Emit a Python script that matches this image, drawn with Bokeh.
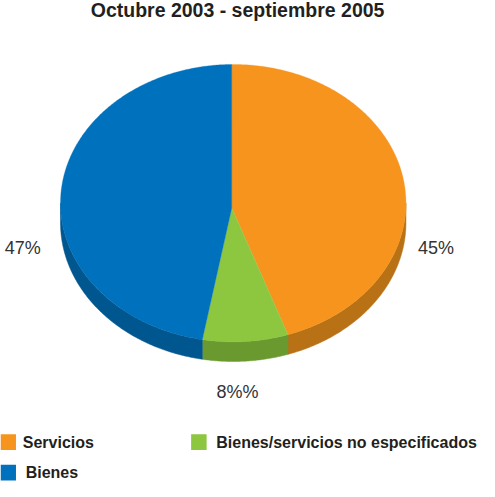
import numpy as np
from bokeh.plotting import figure
from bokeh.models import Range1d
from bokeh.core.properties import value
from bokeh.embed import file_html
from bokeh.resources import INLINE

# ---- data ----
title = "Octubre 2003 - septiembre 2005"
categories = ["Servicios", "Bienes/servicios no especificados", "Bienes"]
shares = [45, 8, 47]
pct_labels = ["45%", "8%%", "47%"]

# ---- styles / layout ----
top_colors = ["#F7941E", "#8DC63F", "#0071BC"]
side_colors = ["#B87115", "#6A9A2F", "#00568F"]
CX, CY, RX, RY = 240.5, 214.0, 178.5, 141.0   # top ellipse (reference px)
AX, AY = 239.0, 219.0                         # apex of slices
DEPTH = 20.0
START = 90.5                                   # degrees, clockwise drawing
label_pos = [(450, 260), (245, 406), (23, 260)]
legend_sq = [(8, 457), (205, 457), (8, 488)]
legend_tx = [(23, 457), (223, 457), (26, 488)]
FONT = "Liberation Sans"
TXT = "#231F20"

p = figure(width=479, height=481, x_range=Range1d(0, 495), y_range=Range1d(497, 8),
           output_backend="svg", toolbar_location=None, min_border=0,
           x_axis_location=None, y_axis_location=None, outline_line_color=None,
           background_fill_color="white", border_fill_color="white")
p.grid.visible = False

def arc(t0, t1, dy=0.0, n=None):
    if n is None:
        n = max(4, int(abs(t1 - t0) * 2))
    t = np.radians(np.linspace(t0, t1, n))
    return list(CX + RX * np.cos(t)), list(CY - RY * np.sin(t) + dy)

total = float(sum(shares))
bounds = []
a = START
for s in shares:
    b = a - 360.0 * s / total
    bounds.append((a, b))
    a = b

# side faces (front half: param angle between -180 and 0)
sx, sy, sc = [], [], []
for (a0, a1), col in zip(bounds, side_colors):
    for shift in (0.0, -360.0, 360.0):
        hi = min(a0 + shift, 0.0)
        lo = max(a1 + shift, -180.0)
        if hi > lo:
            x1, y1 = arc(lo, hi)
            x2, y2 = arc(hi, lo, DEPTH)
            sx.append(x1 + x2)
            sy.append(y1 + y2)
            sc.append(col)
p.patches(sx, sy, fill_color=sc, line_color=sc, line_width=0.5)

# top faces
tx, ty = [], []
for (a0, a1) in bounds:
    x, y = arc(a0, a1)
    tx.append([AX] + x)
    ty.append([AY] + y)
p.patches(tx, ty, fill_color=top_colors, line_color=top_colors, line_width=0.3)

# percent labels
p.text([q[0] for q in label_pos], [q[1] for q in label_pos], text=pct_labels,
       text_align="center", text_baseline="middle", text_font=value(FONT),
       text_font_size="18px", text_color="#333333")

# title
p.text([245], [18], text=[title], text_align="center", text_baseline="middle",
       text_font=value(FONT), text_font_size="19.5px", text_font_style="bold",
       text_color=TXT)

# legend
p.rect([q[0] for q in legend_sq], [q[1] for q in legend_sq], width=16, height=16,
       fill_color=top_colors, line_color=None)
p.text([q[0] for q in legend_tx], [q[1] for q in legend_tx], text=categories,
       text_align="left", text_baseline="middle", text_font=value(FONT),
       text_font_size="16px", text_font_style="bold", text_color=TXT)

open("out.html", "w").write(file_html(p, INLINE))
